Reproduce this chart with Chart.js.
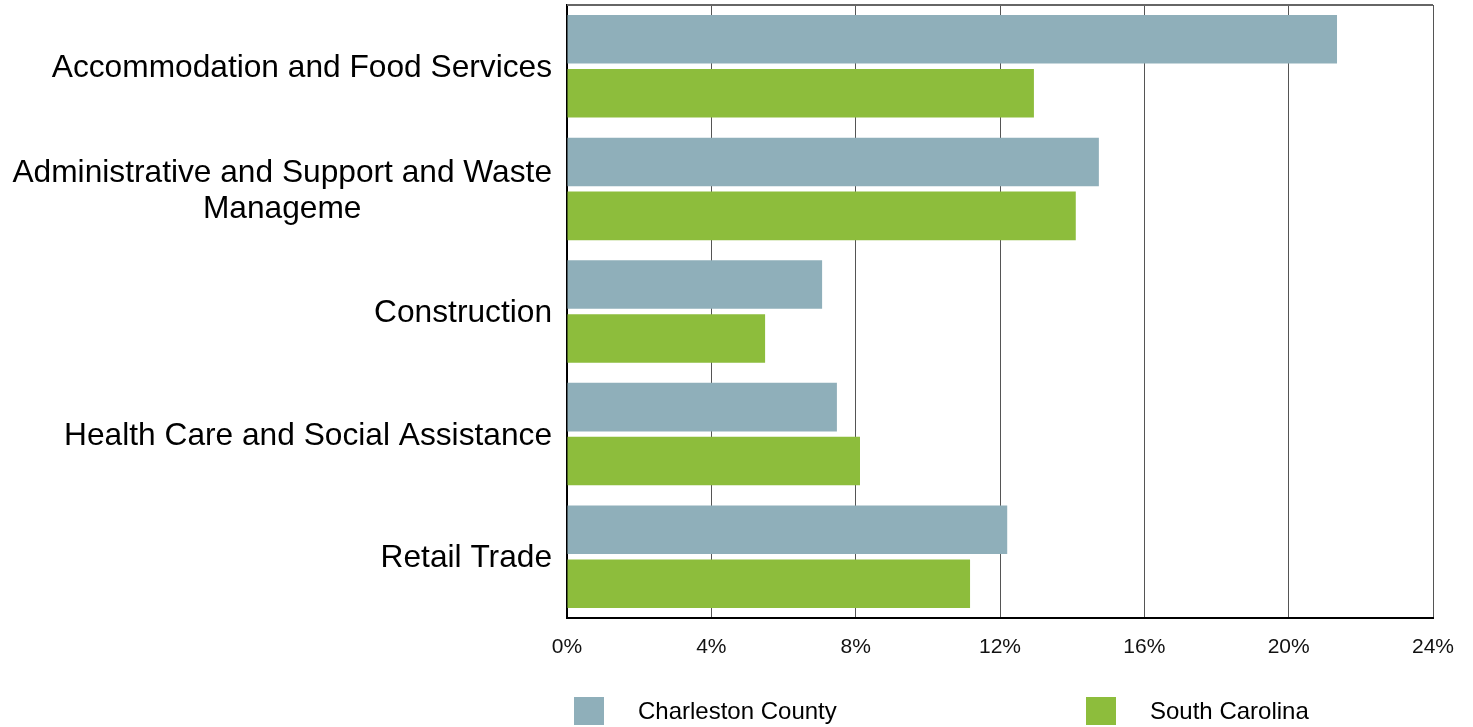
<!DOCTYPE html>
<html>
<head>
<meta charset="utf-8">
<script src="https://cdn.jsdelivr.net/npm/chart.js@4"></script>
<style>
  html, body { margin: 0; padding: 0; background: #fff; }
  #wrap { width: 1473px; height: 727px; }
</style>
</head>
<body>
<div id="wrap"><canvas id="grafico"></canvas></div>
<script>
var categorias = [
  "Accommodation and Food Services",
  ["Administrative and Support and Waste", "Manageme"],
  "Construction",
  "Health Care and Social Assistance",
  "Retail Trade"
];
var charleston = [21.34, 14.74, 7.07, 7.48, 12.2];
var carolina = [12.94, 14.1, 5.49, 8.12, 11.17];
var ticksX = [0, 4, 8, 12, 16, 20, 24];

var corCharleston = "rgb(143,175,186)";
var corCarolina = "rgb(141,189,60)";
var fonte = "'Liberation Sans', Arial, sans-serif";

// desenha rótulos do eixo Y, borda superior e legenda
var extras = {
  id: "extras",
  beforeDatasetsDraw: function(chart) {
    var ctx = chart.ctx, a = chart.chartArea;
    ctx.save();
    ctx.strokeStyle = "#666";
    ctx.lineWidth = 2;
    ctx.beginPath();
    ctx.moveTo(a.left, a.top);
    ctx.lineTo(a.right, a.top);
    ctx.stroke();
    ctx.restore();
  },
  afterDraw: function(chart) {
    var ctx = chart.ctx, a = chart.chartArea;
    var y = chart.scales.y;
    ctx.save();
    ctx.fillStyle = "#000";
    ctx.font = "31.7px " + fonte;
    ctx.textBaseline = "middle";
    ctx.textAlign = "center";
    chart.data.labels.forEach(function(lbl, i) {
      var linhas = Array.isArray(lbl) ? lbl : [lbl];
      var larg = 0;
      linhas.forEach(function(l) { larg = Math.max(larg, ctx.measureText(l).width); });
      var cx = a.left - 15 - larg / 2;
      var cy = y.getPixelForTick(i) + 2;
      var lh = 36;
      linhas.forEach(function(l, k) {
        ctx.fillText(l, cx, cy + (k - (linhas.length - 1) / 2) * lh);
      });
    });

    // legenda
    ctx.font = "24px " + fonte;
    ctx.textAlign = "left";
    var posX = [a.left + 7, a.left + 519];
    chart.data.datasets.forEach(function(ds, i) {
      ctx.fillStyle = ds.backgroundColor;
      ctx.fillRect(posX[i], 697, 30, 28);
      ctx.fillStyle = "#000";
      ctx.fillText(ds.label, posX[i] + 64, 712);
    });
    ctx.restore();
  }
};

new Chart(document.getElementById("grafico"), {
  type: "bar",
  data: {
    labels: categorias,
    datasets: [{
      label: "Charleston County",
      backgroundColor: corCharleston,
      data: charleston,
      barPercentage: 0.9,
      categoryPercentage: 0.88
    }, {
      label: "South Carolina",
      backgroundColor: corCarolina,
      data: carolina,
      barPercentage: 0.9,
      categoryPercentage: 0.88
    }]
  },
  options: {
    indexAxis: "y",
    responsive: true,
    maintainAspectRatio: false,
    animation: false,
    layout: { padding: { top: 5, right: 40, left: 0, bottom: 0 } },
    plugins: {
      legend: { display: false },
      tooltip: { enabled: false }
    },
    scales: {
      x: {
        min: 0,
        max: 24,
        afterBuildTicks: function(s) { s.ticks = ticksX.map(function(v) { return { value: v }; }); },
        afterFit: function(s) { s.height = 109; },
        grid: { color: "#555", lineWidth: 1, drawTicks: false },
        border: { color: "#000", width: 2 },
        ticks: {
          padding: 17,
          color: "#111",
          font: { family: fonte, size: 21 },
          callback: function(v) { return v + "%"; }
        }
      },
      y: {
        afterFit: function(s) { s.width = 567; },
        grid: { display: false },
        border: { color: "#000", width: 2 },
        ticks: { display: false }
      }
    }
  },
  plugins: [extras]
});
</script>
</body>
</html>
